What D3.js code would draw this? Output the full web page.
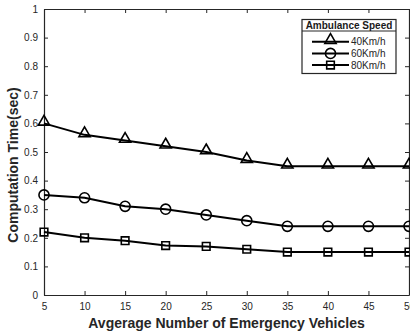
<!DOCTYPE html>
<html>
<head>
<meta charset="utf-8">
<script src="https://cdn.jsdelivr.net/npm/d3@7"></script>
<style>
  body { margin: 0; background: #fff; }
  svg { display: block; font-family: "Liberation Sans", Arial, sans-serif; }
  .tick text { fill: #262626; font-size: 10px; }
</style>
</head>
<body>
<div id="wrapper"></div>
<script>
const vehicles = [5, 10, 15, 20, 25, 30, 35, 40, 45, 50]
const speeds = ['40Km/h', '60Km/h', '80Km/h']
const markers = ['triangle', 'circle', 'square']
const time40 = [0.60, 0.56, 0.54, 0.52, 0.50, 0.47, 0.45, 0.45, 0.45, 0.45]
const time60 = [0.35, 0.34, 0.31, 0.30, 0.28, 0.26, 0.24, 0.24, 0.24, 0.24]
const time80 = [0.22, 0.20, 0.19, 0.173, 0.17, 0.16, 0.15, 0.15, 0.15, 0.15]
const yTicks = [0, 0.1, 0.2, 0.3, 0.4, 0.5, 0.6, 0.7, 0.8, 0.9, 1]

function drawChart() {

  //1.dimensions
  let dimensions = {
    width: 410,
    height: 334,
    margin: { top: 9, right: 1, bottom: 39, left: 44 }
  }
  dimensions.boundedWidth = dimensions.width - dimensions.margin.left - dimensions.margin.right
  dimensions.boundedHeight = dimensions.height - dimensions.margin.top - dimensions.margin.bottom

  //2.canvas
  const wrapper = d3.select('#wrapper')
    .append('svg')
      .attr('width', dimensions.width)
      .attr('height', dimensions.height)

  const bounds = wrapper.append('g')
    .attr('transform', `translate(${dimensions.margin.left}, ${dimensions.margin.top})`)

  //3.scales
  const xScale = d3.scaleLinear()
    .domain([5, 50])
    .range([0, dimensions.boundedWidth])

  const yScale = d3.scaleLinear()
    .domain([0, 1])
    .range([dimensions.boundedHeight, 0])

  //4.axes (matlab style, inward ticks on all four sides)
  bounds.append('g')
    .attr('transform', `translate(0, ${dimensions.boundedHeight})`)
    .call(d3.axisBottom(xScale).tickValues(vehicles).tickSizeInner(-4).tickSizeOuter(0).tickPadding(8))
  bounds.append('g')
    .call(d3.axisLeft(yScale).tickValues(yTicks).tickFormat(d3.format('')).tickSizeInner(-4).tickSizeOuter(0).tickPadding(6))
  bounds.append('g')
    .call(d3.axisTop(xScale).tickValues(vehicles).tickSizeInner(-4).tickSizeOuter(0).tickFormat(''))
  bounds.append('g')
    .attr('transform', `translate(${dimensions.boundedWidth}, 0)`)
    .call(d3.axisRight(yScale).tickValues(yTicks).tickSizeInner(-4).tickSizeOuter(0).tickFormat(''))

  bounds.selectAll('.domain').attr('stroke', '#262626').attr('stroke-width', 1.2)
  bounds.selectAll('.tick line').attr('stroke', '#262626')

  //5.lines
  const seriesList = [time40, time60, time80]
  const lineGenerator = d3.line()
    .x((d, i) => xScale(vehicles[i]))
    .y(d => yScale(d))

  const symbolType = {
    triangle: d3.symbolTriangle,
    circle: d3.symbolCircle,
    square: d3.symbolSquare
  }
  const symbolSize = { triangle: 55, circle: 80, square: 58 }
  const symbolShift = { triangle: 1.5, circle: 0, square: 0 }

  seriesList.forEach((values, s) => {
    bounds.append('path')
      .attr('d', lineGenerator(values))
      .attr('fill', 'none')
      .attr('stroke', '#000')
      .attr('stroke-width', 2)

    const m = markers[s]
    bounds.selectAll('.m' + s)
      .data(values)
      .enter().append('path')
        .attr('class', 'm' + s)
        .attr('transform', (d, i) => `translate(${xScale(vehicles[i])}, ${yScale(d) - symbolShift[m]})`)
        .attr('d', d3.symbol(symbolType[m], symbolSize[m]))
        .attr('fill', 'none')
        .attr('stroke', '#000')
        .attr('stroke-width', 1.6)
  })

  //6.legend
  const legend = wrapper.append('g')
    .attr('transform', 'translate(302, 19.5)')
  legend.append('rect')
    .attr('width', 94)
    .attr('height', 54)
    .attr('fill', '#fff')
    .attr('stroke', '#262626')
    .attr('stroke-width', 1.2)
  legend.append('line')
    .attr('x1', 0).attr('x2', 94)
    .attr('y1', 11.5).attr('y2', 11.5)
    .attr('stroke', '#262626')
    .attr('stroke-width', 1)
  legend.append('text')
    .attr('x', 47).attr('y', 9.3)
    .attr('text-anchor', 'middle')
    .style('font-size', '10px')
    .style('font-weight', 'bold')
    .attr('fill', '#1a1a1a')
    .text('Ambulance Speed')

  speeds.forEach((label, s) => {
    const yPos = 22.2 + s * 11.7
    legend.append('line')
      .attr('x1', 10).attr('x2', 47)
      .attr('y1', yPos).attr('y2', yPos)
      .attr('stroke', '#000')
      .attr('stroke-width', 2)
    const m = markers[s]
    legend.append('path')
      .attr('transform', `translate(28.5, ${yPos - symbolShift[m]})`)
      .attr('d', d3.symbol(symbolType[m], symbolSize[m]))
      .attr('fill', 'none')
      .attr('stroke', '#000')
      .attr('stroke-width', 1.6)
    legend.append('text')
      .attr('x', 49).attr('y', yPos + 3.6)
      .style('font-size', '10px')
      .attr('fill', '#262626')
      .text(label)
  })

  //7.axis labels
  wrapper.append('text')
    .attr('x', dimensions.margin.left + dimensions.boundedWidth / 2)
    .attr('y', 328)
    .attr('text-anchor', 'middle')
    .style('font-size', '14px')
    .style('font-weight', 'bold')
    .attr('fill', '#262626')
    .text('Avgerage Number of Emergency Vehicles')

  wrapper.append('text')
    .attr('transform', 'translate(18, 165) rotate(-90)')
    .attr('text-anchor', 'middle')
    .style('font-size', '14px')
    .style('font-weight', 'bold')
    .attr('fill', '#262626')
    .text('Computation Time(sec)')
}
drawChart()
</script>
</body>
</html>
